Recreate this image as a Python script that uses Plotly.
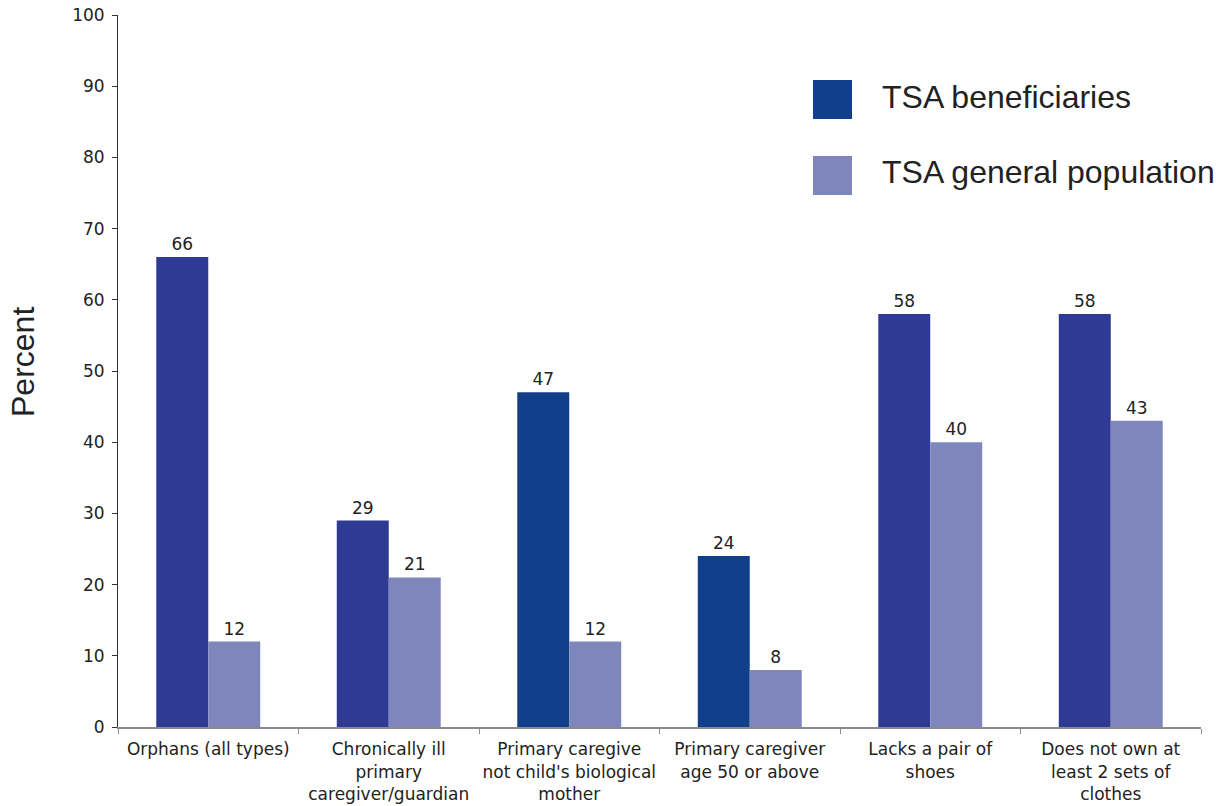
import plotly.graph_objects as go

categories = [
    "Orphans (all types)",
    "Chronically ill<br>primary<br>caregiver/guardian",
    "Primary caregive<br>not child's biological<br>mother",
    "Primary caregiver<br>age 50 or above",
    "Lacks a pair of<br>shoes",
    "Does not own at<br>least 2 sets of<br>clothes",
]
series_names = ["TSA beneficiaries", "TSA general population"]
beneficiaries = [66, 29, 47, 24, 58, 58]
general_population = [12, 21, 12, 8, 40, 43]
y_ticks = [0, 10, 20, 30, 40, 50, 60, 70, 80, 90, 100]

DARK_A = "#2E3A94"
DARK_B = "#123F8B"
LIGHT = "#7F86BB"
dark_colors = [DARK_A, DARK_A, DARK_B, DARK_B, DARK_A, DARK_A]

label_font = dict(family="DejaVu Sans, Verdana, sans-serif", size=17, color="#222222")

fig = go.Figure()
fig.add_trace(go.Bar(
    x=categories, y=beneficiaries, name=series_names[0],
    marker=dict(color=dark_colors, line=dict(width=0)),
    text=[str(v) for v in beneficiaries], textposition="outside",
    textfont=label_font, cliponaxis=False,
))
fig.add_trace(go.Bar(
    x=categories, y=general_population, name=series_names[1],
    marker=dict(color=LIGHT, line=dict(width=0)),
    text=[str(v) for v in general_population], textposition="outside",
    textfont=label_font, cliponaxis=False,
))

fig.update_layout(
    width=1225, height=806,
    margin=dict(l=118, r=24, t=15, b=79),
    paper_bgcolor="white", plot_bgcolor="white",
    barmode="group", bargap=0.424, bargroupgap=0,
    showlegend=False,
    font=label_font,
)
fig.update_xaxes(
    type="category", range=[-0.5, 5.5], tickangle=0,
    showline=True, linecolor="#8a8a8a", linewidth=2,
    ticks="outside", tickson="boundaries", ticklen=5, tickcolor="#8a8a8a", tickwidth=1,
    showgrid=False, zeroline=False, automargin=False,
    tickfont=label_font, ticklabelstandoff=6,
)
fig.update_yaxes(
    range=[0, 100], tickvals=y_ticks, ticktext=[str(t) for t in y_ticks],
    showline=True, linecolor="#333333", linewidth=1,
    ticks="outside", ticklen=5, tickcolor="#333333",
    showgrid=False, zeroline=False, automargin=False,
    tickfont=label_font, ticklabelstandoff=4,
)

# y-axis title
fig.add_annotation(
    text="Percent", textangle=-90, showarrow=False,
    xref="paper", yref="paper", x=(23 - 118) / 1083, y=(727 - 362) / 712,
    xanchor="center", yanchor="middle",
    font=dict(family="Liberation Sans, Arial, sans-serif", size=32, color="#222222"),
)

# custom legend
legend_colors = [DARK_B, LIGHT]
legend_tops = [80, 156]
for name, col, top in zip(series_names, legend_colors, legend_tops):
    x0 = (813 - 118) / 1083
    x1 = (852 - 118) / 1083
    y1 = (727 - top) / 712
    y0 = (727 - top - 39) / 712
    fig.add_shape(type="rect", xref="paper", yref="paper",
                  x0=x0, x1=x1, y0=y0, y1=y1,
                  fillcolor=col, line=dict(width=0))
    fig.add_annotation(
        text=name, showarrow=False, xref="paper", yref="paper",
        x=(880 - 118) / 1083, y=(y0 + y1) / 2 + 3 / 712,
        xanchor="left", yanchor="middle",
        font=dict(family="Liberation Sans, Arial, sans-serif", size=32, color="#222222"),
    )

fig.write_html("out.html")
